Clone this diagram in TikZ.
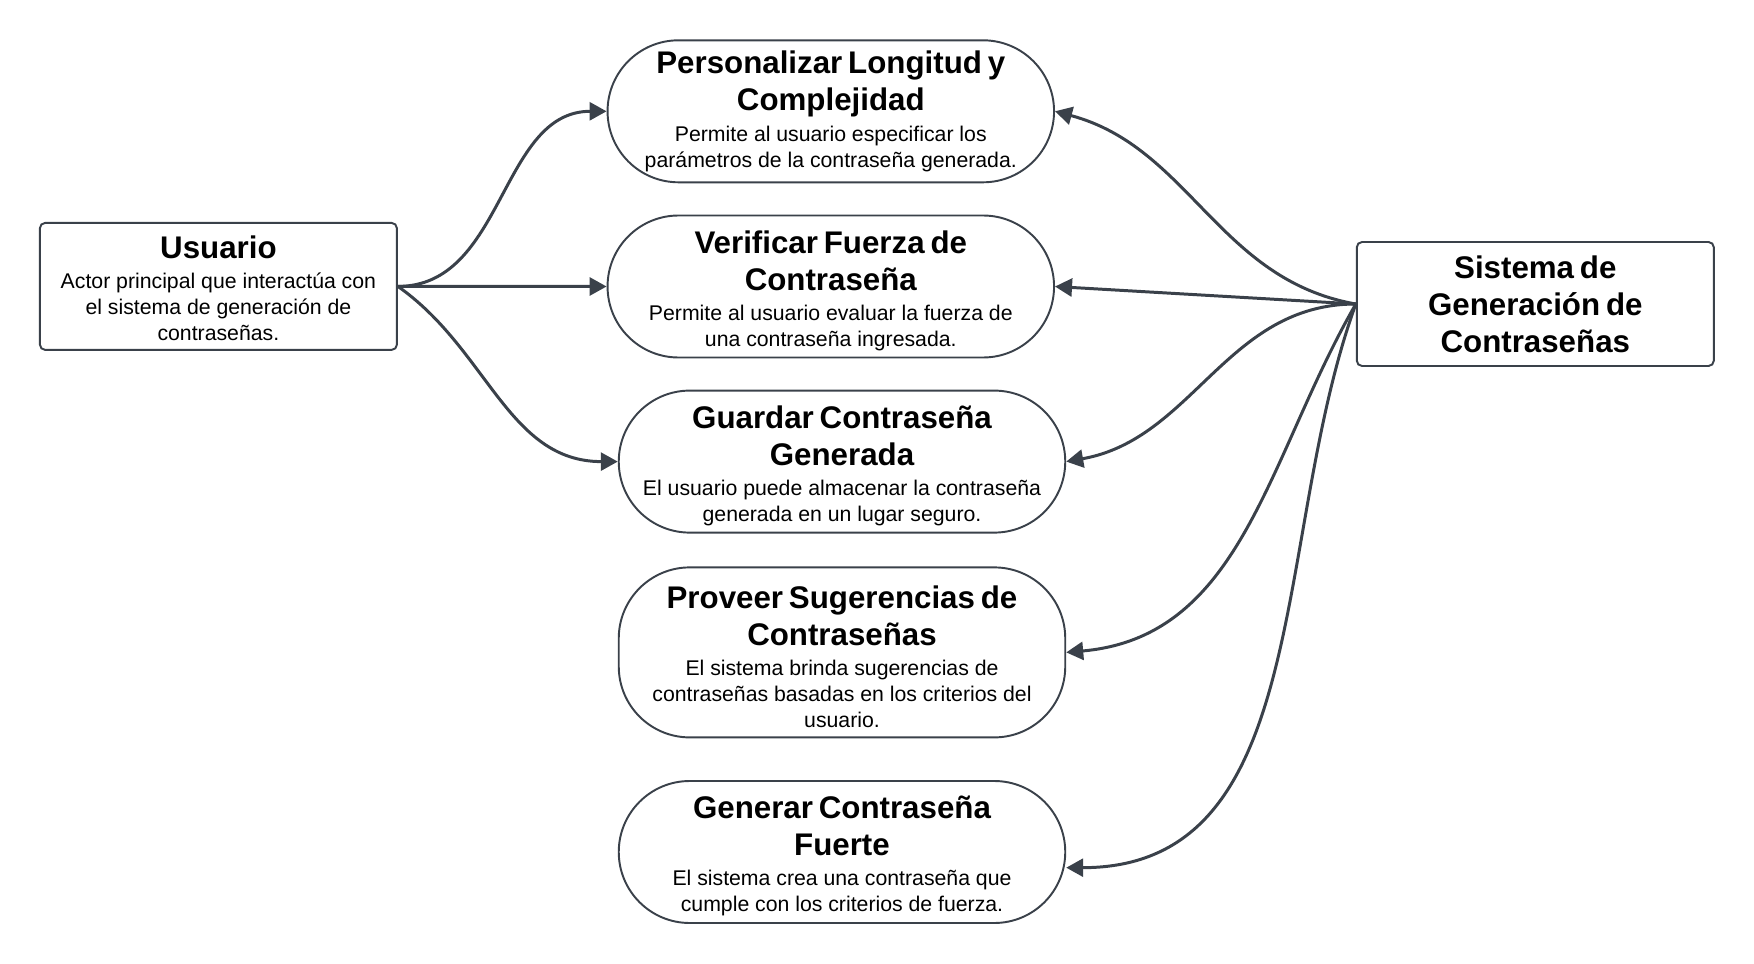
\documentclass[tikz,border=0pt]{standalone}
\usepackage{fontspec}
\setmainfont{Liberation Sans}
\usepackage{tikz}
\usetikzlibrary{arrows.meta}

\definecolor{trazo}{HTML}{3A414A}
\setlength{\parindent}{0pt}
\newcommand{\titulo}{\fontsize{17.8}{21}\selectfont\bfseries}
\newcommand{\cuerpo}{\fontsize{12.1}{14.8}\selectfont}
\newcommand{\caso}[3][0pt]{{\titulo\rule{0pt}{#1}#2\par}\vspace{2.5pt}{\cuerpo #3\par}}

\begin{document}
\begin{tikzpicture}[x=0.2mm,y=-0.2mm,
		caja/.style={draw=trazo,line width=1.1pt,rounded corners=3pt,align=center,
			text width=6.6cm,minimum width=7.14cm,minimum height=2.5cm,inner sep=0pt},
		ovalo/.style={draw=trazo,line width=1.1pt,rounded corners=1.42cm,align=center,
			text width=8cm,minimum width=8.93cm,minimum height=2.84cm,inner sep=0pt},
		flecha/.style={draw=trazo,line width=1.7pt,-{Triangle[length=0.34cm,width=0.36cm]}}]
		\useasboundingbox (0,0) rectangle (1754,964);
		
		% actores
		\node[caja,minimum height=2.54cm] (usuario) at (218.4,286.4)
		{\caso[15.3pt]{Usuario}{Actor principal que interactúa con\\el sistema de generación de\\contraseñas.}};
		\node[caja,minimum height=2.48cm] (sistema) at (1535.3,304)
		{{\titulo Sistema de\\Generación de\\Contraseñas\par}};
		
		% casos de uso
		\node[ovalo] (personalizar) at (830.8,111.3)
		{\caso{Personalizar Longitud y\\Complejidad}{Permite al usuario especificar los\\parámetros de la contraseña generada.}};
		\node[ovalo] (verificar) at (830.8,286.5)
		{\caso[17.6pt]{Verificar Fuerza de\\Contraseña}{Permite al usuario evaluar la fuerza de\\una contraseña ingresada.}};
		\node[ovalo] (guardar) at (842,461.6)
		{\caso[17.6pt]{Guardar Contraseña\\Generada}{El usuario puede almacenar la contraseña\\generada en un lugar seguro.}};
		\node[ovalo,minimum height=3.4cm] (proveer) at (842,652.4)
		{\caso[17.6pt]{Proveer Sugerencias de\\Contraseñas}{El sistema brinda sugerencias de\\contraseñas basadas en los criterios del\\usuario.}};
		\node[ovalo] (generar) at (842,852)
		{\caso[17.6pt]{Generar Contraseña\\Fuerte}{El sistema crea una contraseña que\\cumple con los criterios de fuerza.}};
		
		% conexiones
		\draw[flecha] (usuario.east) to[out=0,in=180] (personalizar.west);
		\draw[flecha] (usuario.east) -- (verificar.west);
		\draw[flecha] (usuario.east) to[out=-35,in=180] (guardar.west);
		
		\draw[flecha] (sistema.west) to[out=170,in=-15] (personalizar.east);
		\draw[flecha] (sistema.west) -- (verificar.east);
		\draw[flecha] (sistema.west) to[out=180,in=10] (guardar.east);
		\draw[flecha] (sistema.west) to[out=-120,in=5] (proveer.east);
		\draw[flecha] (sistema.west) to[out=-110,in=0] (generar.-4);
	\end{tikzpicture}
\end{document}
